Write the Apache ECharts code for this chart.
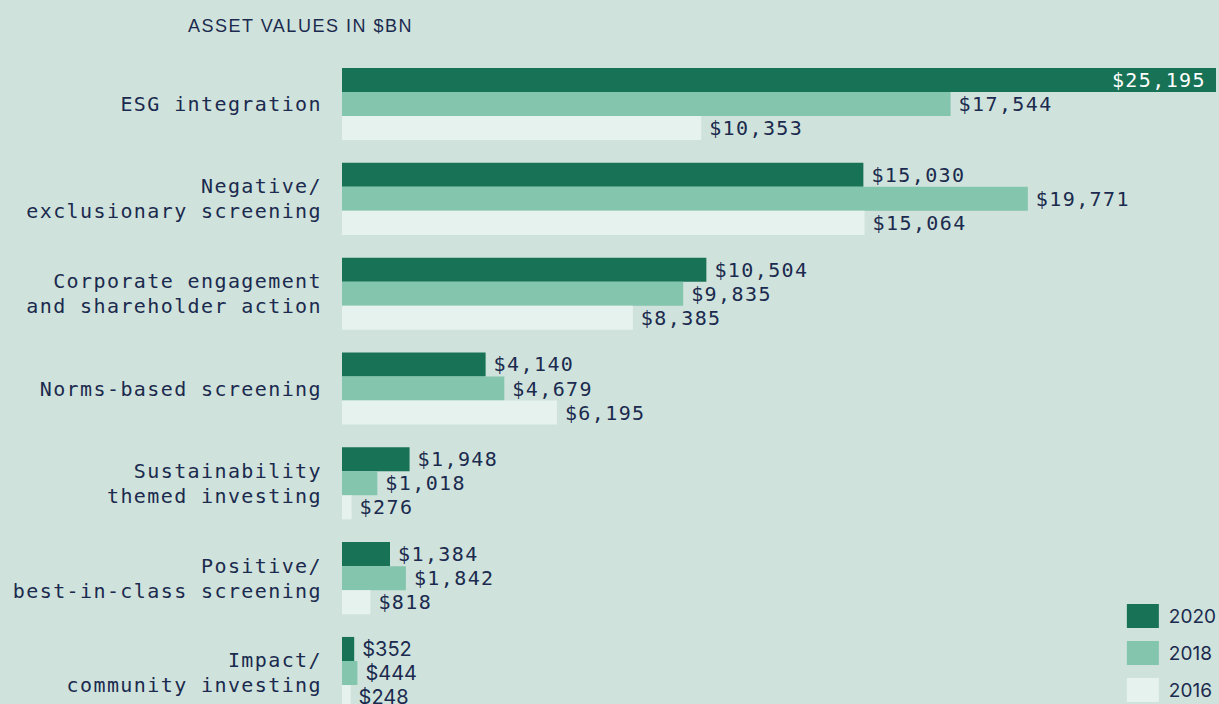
<!DOCTYPE html>
<html>
<head>
<meta charset="utf-8">
<script src="https://cdn.jsdelivr.net/npm/echarts@6/dist/echarts.min.js"></script>
<style>
  html, body { margin: 0; padding: 0; background: #cfe3dc; }
  #chart { width: 1219px; height: 704px; }
  /* spaced-out monospace labels, as in the original */
  #chart text[style*="Mono"] { letter-spacing: 1.4px; }
  #chart text[style*="Liberation Sans"] { letter-spacing: 1.5px; }
</style>
</head>
<body>
<div id="chart"></div>
<script>
// categories, top to bottom
const categories = [
    'ESG integration',
    'Negative/\nexclusionary screening',
    'Corporate engagement\nand shareholder action',
    'Norms-based screening',
    'Sustainability\nthemed investing',
    'Positive/\nbest-in-class screening',
    'Impact/\ncommunity investing'
]
const years = ['2020', '2018', '2016']
const values2020 = [25195, 15030, 10504, 4140, 1948, 1384, 352]
const values2018 = [17544, 19771, 9835, 4679, 1018, 1842, 444]
const values2016 = [10353, 15064, 8385, 6195, 276, 818, 248]

const colors = ['#187256', '#84c5ae', '#e6f2ee']
const textColor = '#1b2a4e'
const mono = '"DejaVu Sans Mono", monospace'
const sans = 'Inter, sans-serif'

const fmt = v => '$' + v.toLocaleString('en-US')

function makeData(arr) {
    return arr.map((v, i) => {
        const item = { value: v }
        if (v === 25195) {
            // the longest bar carries its label inside
            item.label = { position: 'insideRight', color: '#ffffff', distance: 10 }
        }
        if (i === arr.length - 1) {
            item.label = { fontFamily: sans, fontSize: 20 }
        }
        return item
    })
}

const chart = echarts.init(document.getElementById('chart'), null, { renderer: 'svg' })
chart.setOption({
    backgroundColor: '#cfe3dc',
    animation: false,
    title: {
        text: 'ASSET VALUES IN $BN',
        left: 183,
        top: 12,
        textStyle: { fontFamily: '"Liberation Sans", sans-serif', fontWeight: 'normal', fontSize: 18, color: textColor }
    },
    legend: {
        orient: 'vertical',
        right: 3,
        top: 604,
        padding: 0,
        itemWidth: 32,
        itemHeight: 24,
        itemGap: 13,
        icon: 'rect',
        data: years,
        textStyle: { fontFamily: sans, fontSize: 19, color: textColor, padding: [0, 0, 0, 5] }
    },
    grid: {
        left: 342,
        top: 56.6,
        width: 874,
        height: 663.8,
        outerBoundsMode: 'none'
    },
    xAxis: {
        type: 'value',
        min: 0,
        max: 25195,
        show: false
    },
    yAxis: {
        type: 'category',
        inverse: true,
        data: categories,
        axisLine: { show: false },
        axisTick: { show: false },
        axisLabel: {
            margin: 20,
            fontFamily: mono,
            fontSize: 20,
            lineHeight: 25,
            color: textColor
        }
    },
    series: [values2020, values2018, values2016].map((arr, k) => ({
        name: years[k],
        type: 'bar',
        barGap: '0%',
        barCategoryGap: '24%',
        itemStyle: { color: colors[k] },
        label: {
            show: true,
            position: 'right',
            distance: 8,
            fontFamily: mono,
            fontSize: 20,
            color: textColor,
            formatter: p => fmt(p.value)
        },
        data: makeData(arr)
    }))
})
</script>
</body>
</html>
